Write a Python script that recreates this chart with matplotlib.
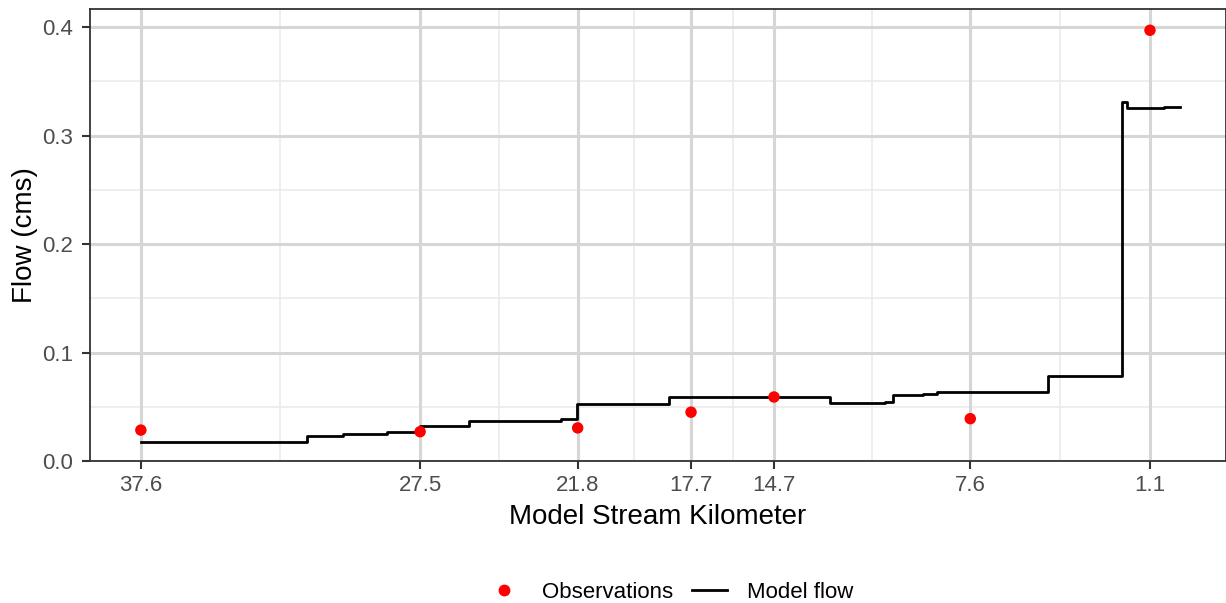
import numpy as np
import matplotlib.pyplot as plt
from matplotlib.lines import Line2D

plt.rcParams['font.family'] = ['Liberation Sans', 'DejaVu Sans']

# --- datos ---
# estaciones de observacion (km del modelo) y caudal observado (cms)
obs_km = [37.6, 27.5, 21.8, 17.7, 14.7, 7.6, 1.1]
obs_flow = [0.0285, 0.027, 0.0305, 0.045, 0.059, 0.039, 0.397]

# caudal del modelo en escalones (inicio de cada tramo, aguas abajo)
model_km = [37.6, 31.6, 30.3, 28.7, 27.5, 25.74, 22.39, 21.81, 18.49, 12.68,
            10.69, 10.40, 9.32, 8.81, 4.80, 2.10, 1.92, 0.60, 0.02]
model_flow = [0.0178, 0.0233, 0.0249, 0.0270, 0.0325, 0.0371, 0.0387, 0.0522,
              0.0593, 0.0537, 0.0547, 0.0608, 0.0615, 0.0639, 0.0783, 0.331,
              0.325, 0.326, 0.326]

x_ticks = [37.6, 27.5, 21.8, 17.7, 14.7, 7.6, 1.1]
y_ticks = [0.0, 0.1, 0.2, 0.3, 0.4]

GRIS_TEXTO = '#4D4D4D'
GRIS_BORDE = '#333333'

fig = plt.figure(figsize=(12.26, 6.03), dpi=100)
ax = fig.add_axes([90 / 1226, 1 - 461 / 603, 1 - 90 / 1226, (461 - 9) / 603])

# rejilla menor en los puntos medios (estilo ggplot)
x_minor = [(a + b) / 2 for a, b in zip(x_ticks[:-1], x_ticks[1:])]
y_minor = [0.05, 0.15, 0.25, 0.35]
for xm in x_minor:
    ax.axvline(xm, color='#EBEBEB', lw=1.2, zorder=0)
for ym in y_minor:
    ax.axhline(ym, color='#EBEBEB', lw=1.2, zorder=0)
for xt in x_ticks:
    ax.axvline(xt, color='#D6D6D6', lw=2.2, zorder=0)
for yt in y_ticks:
    ax.axhline(yt, color='#D6D6D6', lw=2.2, zorder=0)

ax.step(model_km, model_flow, where='post', color='black', lw=2.0, zorder=3)
ax.scatter(obs_km, obs_flow, s=68, color='red', edgecolors='none', zorder=4)

ax.set_xlim(39.44, -1.65)
ax.set_ylim(0, 0.4166)
ax.set_xticks(x_ticks)
ax.set_xticklabels([f'{v:.1f}' for v in x_ticks])
ax.set_yticks(y_ticks)
ax.set_yticklabels([f'{v:.1f}' for v in y_ticks])
ax.tick_params(axis='both', colors=GRIS_BORDE, labelcolor=GRIS_TEXTO,
               labelsize=16, length=6, width=1.5, pad=3)
ax.tick_params(axis='x', pad=4)
ax.tick_params(axis='y', pad=6)

for sp in ax.spines.values():
    sp.set_color(GRIS_BORDE)
    sp.set_linewidth(1.3)

ax.set_xlabel('Model Stream Kilometer', fontsize=20, color='black', labelpad=6)
ax.set_ylabel('Flow (cms)', fontsize=20, color='black', labelpad=3)

handles = [
    Line2D([], [], marker='o', color='red', linestyle='none', markersize=7.5),
    Line2D([], [], color='black', lw=2.0),
]
fig.legend(handles, ['Observations', 'Model flow'], loc='center',
           bbox_to_anchor=(0.5465, 1 - 592 / 603), ncol=2, frameon=False,
           fontsize=16, handlelength=1.57, columnspacing=0.86, handletextpad=0.9)

fig.savefig('out.png', dpi=100)
